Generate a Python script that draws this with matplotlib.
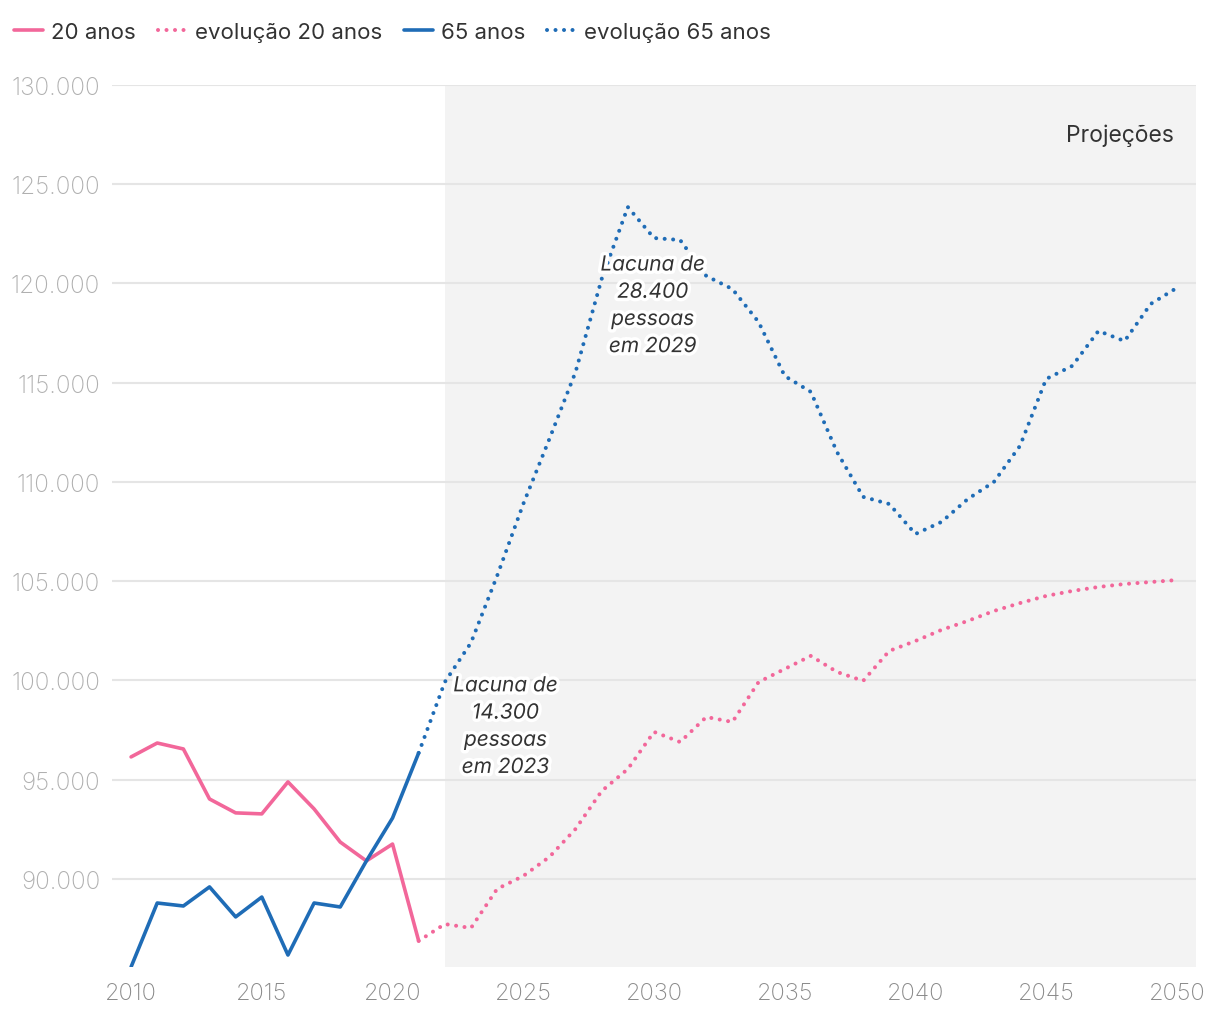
import matplotlib
matplotlib.use("Agg")
import matplotlib.pyplot as plt
import matplotlib.patheffects as pe
from matplotlib.ticker import FuncFormatter

plt.rcParams['font.family'] = ['Inter', 'DejaVu Sans']

# ---- data ----
years_hist = list(range(2010, 2022))
age20_hist = [96150, 96850, 96550, 94030, 93330, 93280, 94890, 93530, 91860, 90910, 91760, 86880]
age65_hist = [85570, 88790, 88640, 89600, 88090, 89090, 86170, 88790, 88590, 90910, 93070, 96350]

years_proj = list(range(2021, 2051))
age20_proj = [86880, 87730, 87530, 89500, 90150, 91110, 92520, 94430, 95540, 97410,
              96900, 98160, 97910, 99920, 100580, 101240, 100430, 99980, 101490, 101990,
              102550, 103000, 103500, 103900, 104260, 104510, 104710, 104860, 104960, 105060]
age65_proj = [96350, 99920, 101900, 105270, 108890, 112170, 115540, 120230, 123850, 122290,
              122190, 120380, 119720, 118060, 115340, 114540, 111510, 109250, 108890, 107380,
              107990, 109140, 110000, 111820, 115190, 115850, 117610, 117100, 118970, 119780]

yticks = [90000, 95000, 100000, 105000, 110000, 115000, 120000, 125000, 130000]
xticks = [2010, 2015, 2020, 2025, 2030, 2035, 2040, 2045, 2050]
legend_labels = ["20 anos", "evolução 20 anos", "65 anos", "evolução 65 anos"]
annotations = [(2024.32, 97700, "Lacuna de\n14.300\npessoas\nem 2023"),
               (2029.95, 118900, "Lacuna de\n28.400\npessoas\nem 2029")]
proj_start = 2022

PINK = "#f2679a"
BLUE = "#1f6cb6"

fig = plt.figure(figsize=(12.2, 10.2), dpi=100)
ax = fig.add_axes([0.0918, 0.051, 0.8885, 0.8647])

xmin, xmax = 2009.27, 2050.73
ymin, ymax = 85567, 130000
ax.set_xlim(xmin, xmax)
ax.set_ylim(ymin, ymax)

ax.axvspan(proj_start, xmax, color="#f3f3f3", zorder=0, lw=0)
for yt in yticks:
    ax.axhline(yt, color="#e5e5e5", lw=1.5, zorder=1)

lw = 2.6
dlw = 2.9
dot = (0, (0.01, 2.1))
l1, = ax.plot(years_hist, age20_hist, color=PINK, lw=lw, solid_capstyle='round', zorder=3)
l2, = ax.plot(years_proj, age20_proj, color=PINK, lw=dlw, linestyle=dot, dash_capstyle='round', zorder=3)
l3, = ax.plot(years_hist, age65_hist, color=BLUE, lw=lw, solid_capstyle='round', zorder=3)
l4, = ax.plot(years_proj, age65_proj, color=BLUE, lw=dlw, linestyle=dot, dash_capstyle='round', zorder=3)

for s in ax.spines.values():
    s.set_visible(False)
ax.tick_params(length=0)
ax.set_yticks(yticks)
ax.set_xticks(xticks)
ax.yaxis.set_major_formatter(FuncFormatter(lambda v, p: f"{int(v):,}".replace(",", ".")))
for lab in ax.get_yticklabels():
    lab.set_color("#b0b0b0")
    lab.set_fontsize(17.5)
    lab.set_fontweight("light")
ax.tick_params(axis='y', pad=8.5)
for lab in ax.get_xticklabels():
    lab.set_color("#8a8a8a")
    lab.set_fontsize(17)
    lab.set_fontweight("light")
ax.tick_params(axis='x', pad=11)

for x, y, t in annotations:
    ax.text(x, y, t, ha="center", va="center", fontsize=15, style="italic",
            family=['Inter', 'DejaVu Sans'],
            color="#333333", linespacing=1.45, zorder=5,
            path_effects=[pe.withStroke(linewidth=5, foreground="white")])

ax.text(xmax - 0.85, 127500, "Projeções", ha="right", va="center", fontsize=16.5,
        color="#333333", zorder=5)

leg = fig.legend([l1, l2, l3, l4], legend_labels, loc="upper left",
                 bbox_to_anchor=(0.0, 0.992), ncol=4, frameon=False, fontsize=16,
                 handlelength=1.3, handletextpad=0.35, columnspacing=1.0,
                 borderaxespad=0.25)
for t in leg.get_texts():
    t.set_color("#333333")

fig.savefig("out.png", dpi=100, facecolor="white")
